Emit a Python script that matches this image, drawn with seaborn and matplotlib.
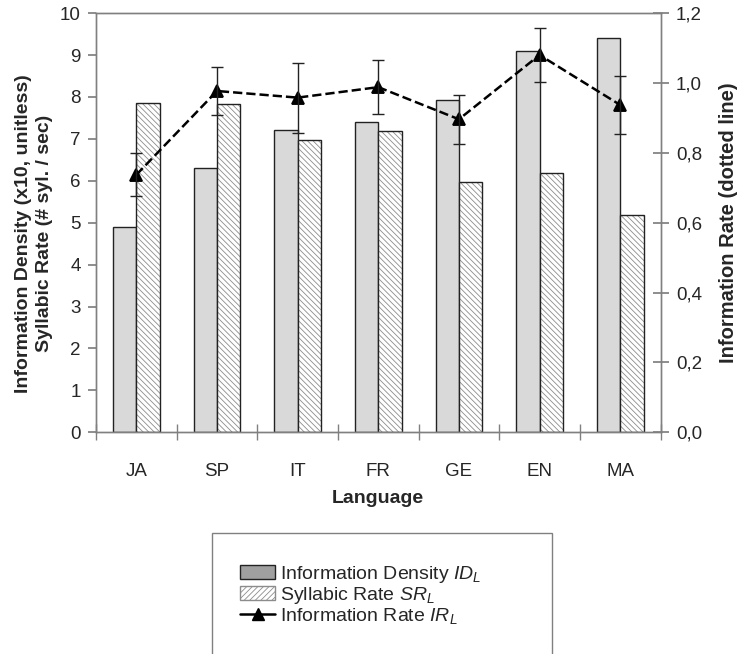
import numpy as np
import pandas as pd
import matplotlib
matplotlib.use("Agg")
import matplotlib.pyplot as plt
from matplotlib.patches import Rectangle, Patch
from matplotlib.lines import Line2D
from matplotlib.ticker import FuncFormatter
import seaborn as sns

# values
languages = ['JA', 'SP', 'IT', 'FR', 'GE', 'EN', 'MA']
info_density = [4.9, 6.3, 7.2, 7.4, 7.92, 9.1, 9.4]
syllabic_rate = [7.85, 7.83, 6.97, 7.18, 5.97, 6.18, 5.18]
info_rate = [0.737, 0.977, 0.958, 0.988, 0.896, 1.08, 0.937]
info_rate_err = [0.062, 0.068, 0.1, 0.078, 0.07, 0.077, 0.083]

sns.set_theme(style='white')
plt.rcParams['font.family'] = ['Liberation Sans', 'DejaVu Sans']
plt.rcParams['mathtext.fontset'] = 'custom'
plt.rcParams['mathtext.rm'] = 'Liberation Sans'
plt.rcParams['mathtext.it'] = 'Liberation Sans:italic'
plt.rcParams['hatch.linewidth'] = 0.6

df = pd.DataFrame({
    'Language': languages * 2,
    'value': info_density + syllabic_rate,
    'series': ['ID'] * 7 + ['SR'] * 7,
})

fig = plt.figure(figsize=(7.43, 6.54), dpi=100)
ax = fig.add_axes([0.1292, 0.339, 0.7598, 0.641])

sns.barplot(data=df, x='Language', y='value', hue='series',
            palette=['#d9d9d9', 'white'], width=0.58, legend=False,
            edgecolor='#222222', linewidth=1.0, saturation=1, ax=ax)

# hatch the syllabic rate bars with gray lines, keep a dark outline on top
for bar in ax.containers[1]:
    bar.set_hatch('\\\\\\\\\\\\')
    bar.set_edgecolor('#8c8c8c')
    bar.set_linewidth(0)
    ax.add_patch(Rectangle(bar.get_xy(), bar.get_width(), bar.get_height(),
                           fill=False, edgecolor='#222222', linewidth=1.0))

ax2 = ax.twinx()
sns.pointplot(x=languages, y=info_rate, color='black', markers='^',
              linestyles='--', errorbar=None, markersize=9, linewidth=1.8,
              ax=ax2)
ax2.errorbar(np.arange(len(languages)), info_rate, yerr=info_rate_err,
             fmt='none', ecolor='#222222', elinewidth=1.0, capsize=4.5,
             capthick=1.0)

ax.set_ylim(0, 10)
ax2.set_ylim(0, 1.2)
ax.set_xlim(-0.5, len(languages) - 0.5)

ax.set_yticks(range(0, 11))
ax2.set_yticks(np.arange(0, 1.21, 0.2))
ax2.yaxis.set_major_formatter(FuncFormatter(lambda v, p: f'{v:.1f}'.replace('.', ',')))

ax.set_xticks(range(len(languages)))
ax.set_xticklabels(languages)
ax.set_xticks(np.arange(-0.5, len(languages)), minor=True)
ax.tick_params(axis='x', which='major', length=0, labelsize=13.5, pad=22)
ax.tick_params(axis='x', which='minor', length=12, direction='inout',
               color='#808080', width=1, bottom=True)
ax.tick_params(axis='y', length=6, direction='out', color='#808080',
               labelsize=13.5, left=True, pad=5)
ax2.tick_params(axis='y', length=12, direction='inout', color='#808080',
                labelsize=13.5, right=True, pad=5)

for a in (ax, ax2):
    for s in a.spines.values():
        s.set_color('#808080')
        s.set_linewidth(1.0)

ax.set_xlabel('Language', fontsize=14, fontweight='bold', labelpad=7)
ax.set_ylabel('Information Density (x10, unitless)\nSyllabic Rate (# syl. / sec)',
              fontsize=14, fontweight='bold', linespacing=1.3)
ax.yaxis.set_label_coords(-0.076, 0.475)
ax2.set_ylabel('Information Rate (dotted line)', fontsize=14.5,
               fontweight='bold', labelpad=12)

handles = [
    Patch(facecolor='#a0a0a0', edgecolor='#222222', linewidth=1.0),
    Patch(facecolor='white', edgecolor='#8c8c8c', hatch='//////', linewidth=1.0),
    Line2D([0], [0], color='black', marker='^', markersize=9, linewidth=1.8),
]
labels = ['Information Density $ID_L$', 'Syllabic Rate $SR_L$',
          'Information Rate $IR_L$']
fig.legend(handles, labels, loc='upper left', bbox_to_anchor=(0.31, 0.153),
           frameon=False, fontsize=14, handlelength=1.8, handletextpad=0.25,
           labelspacing=0.0, borderpad=0)
fig.patches.append(Rectangle((0.2853, -0.05), 0.4576, 0.235,
                             transform=fig.transFigure, fill=False,
                             edgecolor='#808080', linewidth=1.0))

fig.savefig('out.png', dpi=100)
